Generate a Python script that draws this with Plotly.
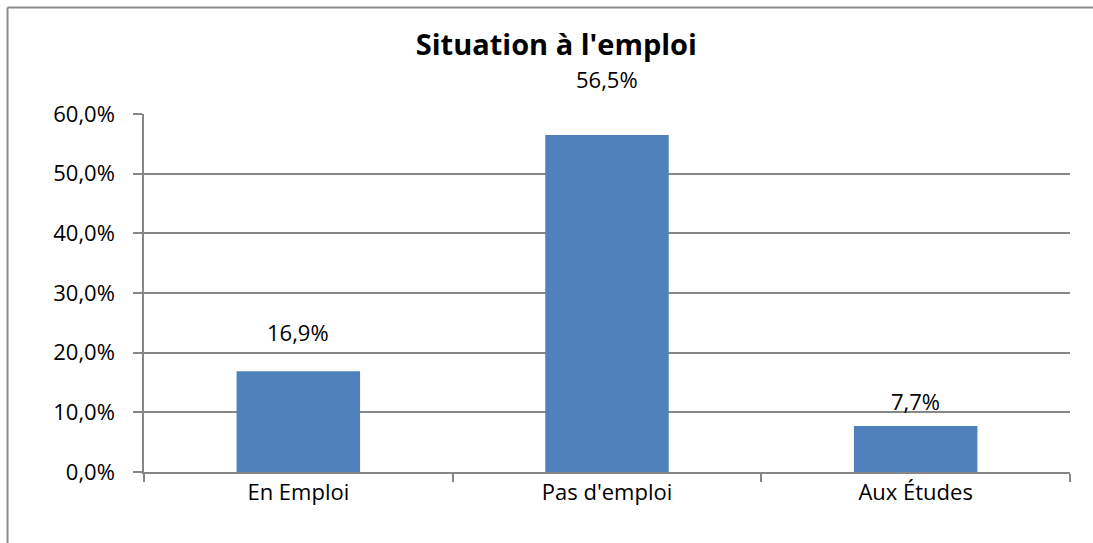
import plotly.graph_objects as go

categories = ["En Emploi", "Pas d'emploi", "Aux Études"]
values = [16.9, 56.5, 7.7]
y_ticks = [0, 10, 20, 30, 40, 50, 60]

GRID = "#868686"
FONT = "Open Sans"

fig = go.Figure()
fig.add_trace(go.Bar(
    x=categories, y=values,
    marker=dict(color="#4F81BD", line=dict(width=0)),
    hoverinfo="skip",
))

# data labels sit above each bar, Excel style offsets
label_shift = [39, 56, 25]
for c, v, s in zip(categories, values, label_shift):
    fig.add_annotation(
        x=c, y=v, yshift=s, yanchor="middle",
        text=f"{v:.1f}%".replace(".", ","),
        showarrow=False, font=dict(size=22, color="#000000", family=FONT),
    )

# chart border (top and left visible in the crop)
fig.add_shape(type="line", xref="paper", yref="paper",
              x0=-0.1474, x1=1.05, y0=1.2975, y1=1.2975,
              line=dict(color="#8C8C8C", width=2))
fig.add_shape(type="line", xref="paper", yref="paper",
              x0=-0.1474, x1=-0.1474, y0=1.2975, y1=-0.25,
              line=dict(color="#8C8C8C", width=2))

fig.update_layout(
    width=1093, height=543,
    margin=dict(l=144, r=23, t=114, b=71),
    paper_bgcolor="white", plot_bgcolor="white",
    bargap=0.6,
    showlegend=False,
    font=dict(family=FONT, size=22, color="#000000"),
    title=dict(text="<b>Situation à l'emploi</b>", xref="container", x=0.509,
               xanchor="center", yref="container", y=0.918, yanchor="middle",
               font=dict(size=29, family=FONT, color="#000000")),
    xaxis=dict(
        showline=True, linecolor=GRID, linewidth=1.5,
        ticks="outside", tickson="boundaries", ticklen=8, tickcolor=GRID,
        tickwidth=1.5, showgrid=False,
        tickfont=dict(size=22, family=FONT),
    ),
    yaxis=dict(
        range=[0, 60], tickvals=y_ticks,
        ticktext=[f"{t:.1f}%".replace(".", ",") for t in y_ticks],
        showline=True, linecolor=GRID, linewidth=1.5,
        ticks="outside", ticklen=9, tickcolor=GRID, tickwidth=1.5,
        showgrid=True, gridcolor=GRID, gridwidth=1.5,
        zeroline=False, ticklabelstandoff=14,
        tickfont=dict(size=22, family=FONT),
    ),
)

fig.write_html("out.html", config={"displayModeBar": False},
               post_script="document.body.style.margin='0px';")
